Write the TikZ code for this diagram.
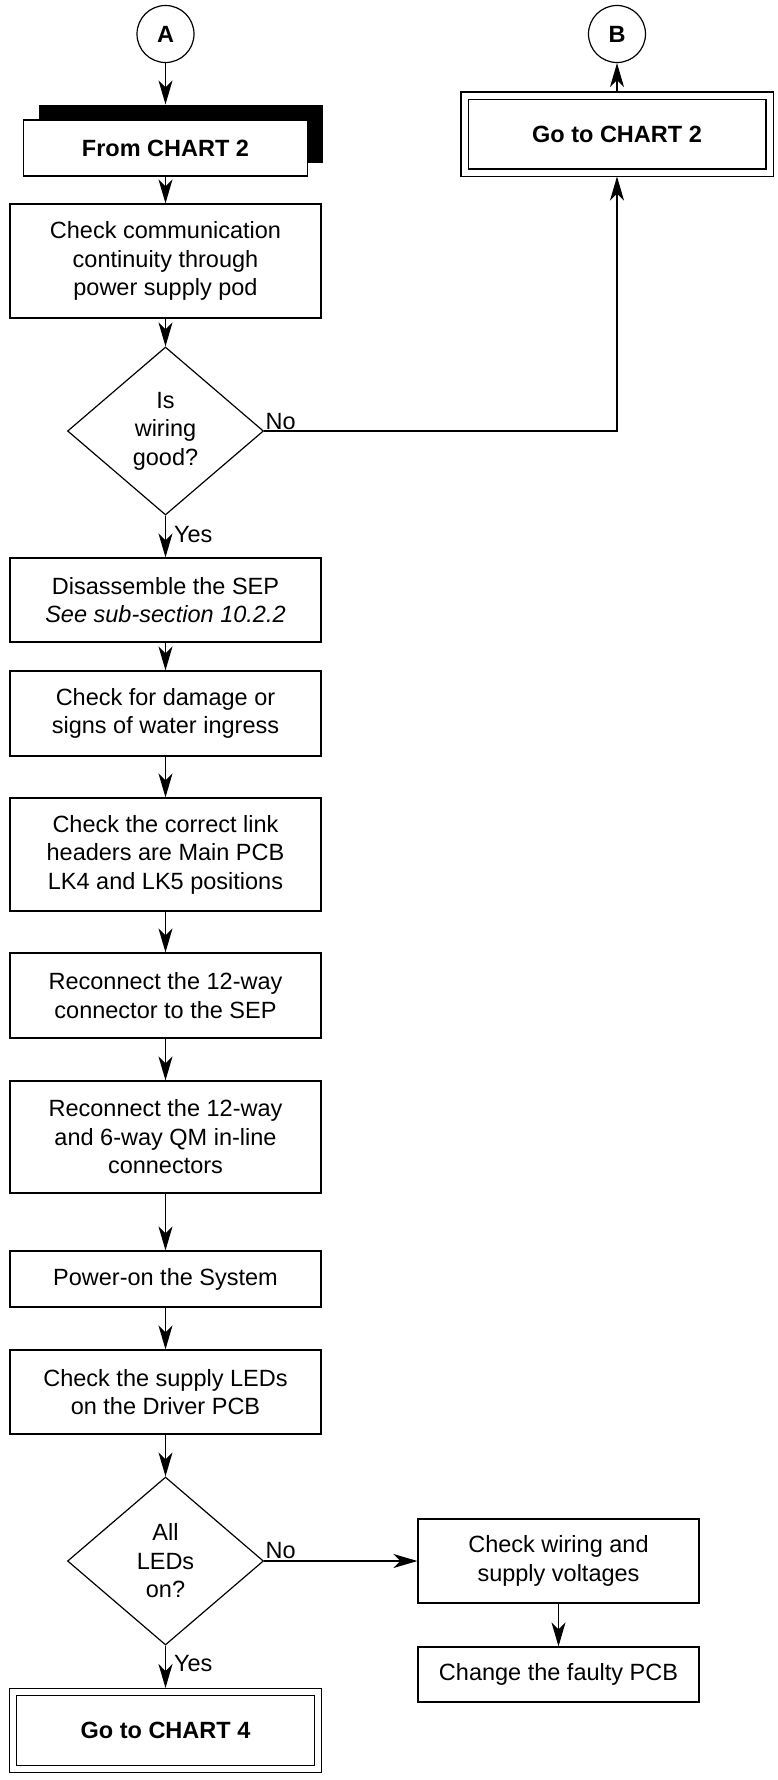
\documentclass[tikz,border=0pt]{standalone}
\usepackage{fontspec}
\setmainfont{Liberation Sans}
\usetikzlibrary{shapes.geometric,arrows.meta}
\begin{document}
\begin{tikzpicture}[x=1pt,y=-1pt,
  font=\fontsize{23.5}{28.5}\selectfont,
  line width=1.2pt,
  box/.style={draw, rectangle, inner sep=0pt, align=center, minimum width=311pt},
  sidebox/.style={draw, rectangle, inner sep=0pt, align=center, minimum width=281pt},
  dec/.style={draw, diamond, inner sep=0pt, align=center, minimum width=196pt, minimum height=168pt},
  conn/.style={draw, circle, inner sep=0pt, minimum size=57pt, font=\fontsize{23.5}{28.5}\selectfont\bfseries},
  endbox/.style={draw, double, double distance=6pt, inner sep=0pt, outer sep=4pt, align=center,
     minimum width=305pt, minimum height=77pt, font=\fontsize{23.5}{28.5}\selectfont\bfseries},
  arr/.style={-{Stealth[length=24pt,width=14pt,inset=7pt]}},
  lbl/.style={inner sep=0pt, anchor=base west}
]
\useasboundingbox (0,0) rectangle (777,1780);

% connectors
\node[conn] (A) at (165.5,34) {A};
\node[conn] (B) at (617,34) {B};

% From CHART 2 with shadow
\node[fill=black, inner sep=0pt, minimum width=284pt, minimum height=58pt] (fromshadow) at (180.5,134) {};
\node[draw, fill=white, inner sep=0pt, minimum width=284pt, minimum height=56pt,
      font=\fontsize{23.5}{28.5}\selectfont\bfseries] (from) at (165.5,148) {From CHART 2};

% Go to CHART 2
\node[endbox] (g2) at (617,134) {Go to CHART 2};

% main column
\node[box, minimum height=114pt] (c1) at (165.5,261) {Check communication\\continuity through\\power supply pod};
\node[dec] (d1) at (165.5,431) {Is\\wiring\\good?};
\node[box, minimum height=84pt] (c2) at (165.5,600) {Disassemble the SEP\\\textit{See sub-section 10.2.2}};
\node[box, minimum height=85pt] (c3) at (165.5,713.5) {Check for damage or\\signs of water ingress};
\node[box, minimum height=113pt] (c4) at (165.5,854.5) {Check the correct link\\headers are Main PCB\\LK4 and LK5 positions};
\node[box, minimum height=85pt] (c5) at (165.5,995.5) {Reconnect the 12-way\\connector to the SEP};
\node[box, minimum height=112pt] (c6) at (165.5,1137) {Reconnect the 12-way\\and 6-way QM in-line\\connectors};
\node[box, minimum height=56pt] (c7) at (165.5,1279) {Power-on the System};
\node[box, minimum height=84pt] (c8) at (165.5,1392) {Check the supply LEDs\\on the Driver PCB};
\node[dec] (d2) at (165.5,1561) {All\\LEDs\\on?};
\node[endbox] (g4) at (165.5,1730.5) {Go to CHART 4};

% side column
\node[sidebox, minimum height=84pt] (cw) at (558.5,1561) {Check wiring and\\supply voltages};
\node[sidebox, minimum height=55pt] (cf) at (558.5,1674.5) {Change the faulty PCB};

% connectors
\draw[arr] (A) -- (A.south |- fromshadow.north);
\draw[arr] (from) -- (c1);
\draw[arr] (c1) -- (d1);
\draw[arr] (d1) -- (c2);
\draw[arr] (d1.east) -| (g2.south);
\draw[arr] (g2) -- (B);
\draw[arr] (c2) -- (c3);
\draw[arr] (c3) -- (c4);
\draw[arr] (c4) -- (c5);
\draw[arr] (c5) -- (c6);
\draw[arr] (c6) -- (c7);
\draw[arr] (c7) -- (c8);
\draw[arr] (c8) -- (d2);
\draw[arr] (d2) -- (g4);
\draw[arr] (d2.east) -- (cw.west);
\draw[arr] (cw) -- (cf);

% labels
\node[lbl] at ([xshift=1pt,yshift=2pt]d1.east) {No};
\node[lbl] at ([xshift=8pt,yshift=-27pt]d1.south) {Yes};
\node[lbl] at ([xshift=1pt,yshift=3pt]d2.east) {No};
\node[lbl] at ([xshift=8pt,yshift=-26pt]d2.south) {Yes};
\end{tikzpicture}
\end{document}
